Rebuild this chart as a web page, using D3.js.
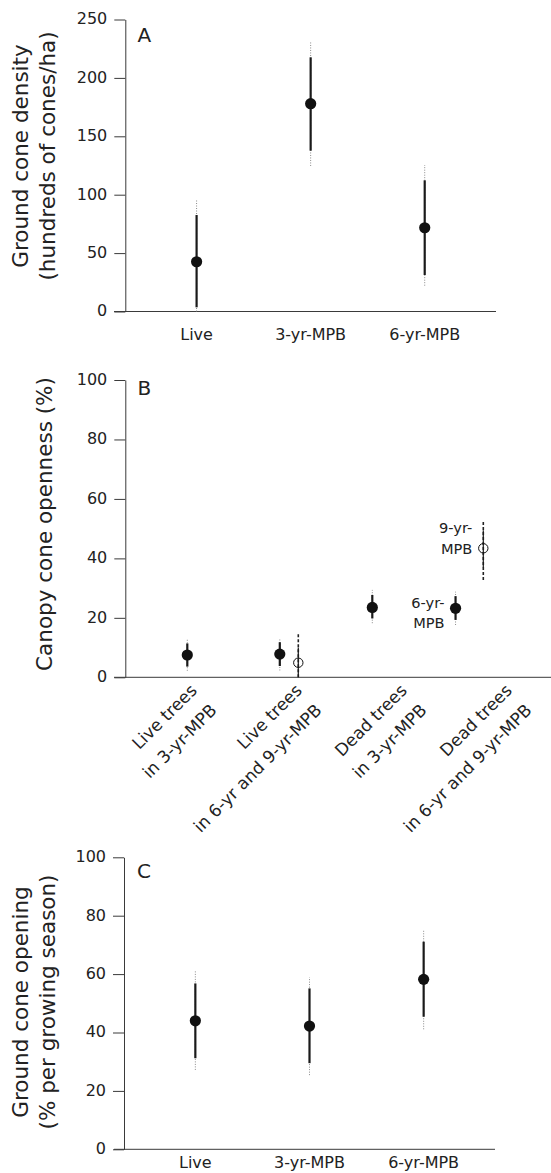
<!DOCTYPE html>
<html>
<head>
<meta charset="utf-8">
<script src="https://cdn.jsdelivr.net/npm/d3@7"></script>
<style>
  html, body { margin: 0; padding: 0; background: #fff; }
  svg { display: block; }
  text { font-family: "DejaVu Sans", sans-serif; fill: #222; }
</style>
</head>
<body>
<svg id="chart" width="551" height="1173"></svg>
<script>
// ---------- Panel A data ----------
const aCats = ["Live", "3-yr-MPB", "6-yr-MPB"];
const aMean = [42.6, 177.9, 71.7];
const aInnerLo = [3.6, 137.7, 31.2];
const aInnerHi = [82.6, 217.6, 112.3];
const aOuterLo = [0, 124.6, 22.1];
const aOuterHi = [96, 231.3, 125.4];
const aTicks = [0, 50, 100, 150, 200, 250];

// ---------- Panel B data ----------
const bCatLine1 = ["Live trees", "Live trees", "Dead trees", "Dead trees"];
const bCatLine2 = ["in 3-yr-MPB", "in 6-yr and 9-yr-MPB", "in 3-yr-MPB", "in 6-yr and 9-yr-MPB"];
const bPos = [1, 2, 2.2, 3, 3.9, 4.2];
const bOpen = [false, false, true, false, false, true];
const bMean = [7.5, 7.8, 4.9, 23.5, 23.2, 43.4];
const bInnerLo = [3.6, 3.8, 0, 19.8, 19.3, 37.0];
const bInnerHi = [11.4, 11.8, 10.0, 27.7, 27.3, 49.5];
const bOuterLo = [2.2, 2.3, 0, 18.2, 17.6, 32.7];
const bOuterHi = [13.1, 13.0, 14.6, 29.4, 28.8, 52.7];
const bNoteIdx = [4, 5];
const bNoteLine1 = ["6-yr-", "9-yr-"];
const bNoteLine2 = ["MPB", "MPB"];
const bTicks = [0, 20, 40, 60, 80, 100];

// ---------- Panel C data ----------
const cCats = ["Live", "3-yr-MPB", "6-yr-MPB"];
const cMean = [44.0, 42.2, 58.2];
const cInnerLo = [31.2, 29.5, 45.4];
const cInnerHi = [56.8, 55.1, 71.1];
const cOuterLo = [27.2, 25.4, 41.1];
const cOuterHi = [61.4, 58.9, 75.1];
const cTicks = [0, 20, 40, 60, 80, 100];

const svg = d3.select("#chart");
const AXIS = "#3a3a3a";
const DOT = "#8a8a8a";

function yAxis(g, y, ticks, x0) {
  const ax = g.append("g").attr("transform", `translate(${x0},0)`)
    .call(d3.axisLeft(y).tickValues(ticks).tickSize(11).tickPadding(7).tickSizeOuter(0));
  ax.select(".domain").attr("stroke", AXIS);
  ax.selectAll(".tick line").attr("stroke", AXIS);
  ax.selectAll(".tick text").attr("font-size", 16).attr("fill", "#222")
    .attr("font-family", '"DejaVu Sans", sans-serif').attr("dy", "0.28em");
}

function xLine(g, y0, x1, x2) {
  g.append("line").attr("x1", x1).attr("x2", x2).attr("y1", y0).attr("y2", y0)
    .attr("stroke", AXIS).attr("stroke-width", 1);
}

function title(g, lines, cy, baselines) {
  lines.forEach((t, i) => {
    g.append("text")
      .attr("transform", `translate(${baselines[i]},${cy}) rotate(-90)`)
      .attr("text-anchor", "middle").attr("font-size", 21.5).text(t);
  });
}

function errbars(g, xs, y, lo, hi, ilo, ihi, openFlags) {
  xs.forEach((x, i) => {
    const open = openFlags ? openFlags[i] : false;
    g.append("line").attr("x1", x).attr("x2", x)
      .attr("y1", y(Math.max(lo[i], y.domain()[0]))).attr("y2", y(hi[i]))
      .attr("stroke", open ? "#222" : DOT)
      .attr("stroke-width", open ? 1.6 : 1)
      .attr("stroke-dasharray", open ? "3,2" : "1,1.5");
    g.append("line").attr("x1", x).attr("x2", x)
      .attr("y1", y(ilo[i])).attr("y2", y(ihi[i]))
      .attr("stroke", "#1a1a1a").attr("stroke-width", open ? 1.2 : 2.2);
  });
}

function points(g, xs, y, m, openFlags) {
  xs.forEach((x, i) => {
    const open = openFlags ? openFlags[i] : false;
    g.append("circle").attr("cx", x).attr("cy", y(m[i]))
      .attr("r", open ? 4.7 : 5.6)
      .attr("fill", open ? "none" : "#111")
      .attr("stroke", "#111").attr("stroke-width", open ? 1 : 0);
  });
}

// ================= Panel A =================
{
  const g = svg.append("g");
  const y = d3.scaleLinear().domain([0, 250]).range([311.5, 19.5]);
  const x = d3.scalePoint().domain(aCats).range([125.3, 496]).padding(0.625);
  yAxis(g, y, aTicks, 125.3);
  xLine(g, 311.5, 114, 496);
  const xs = aCats.map(c => x(c));
  errbars(g, xs, y, aOuterLo, aOuterHi, aInnerLo, aInnerHi);
  points(g, xs, y, aMean);
  g.selectAll(".xl").data(aCats).enter().append("text")
    .attr("x", d => x(d)).attr("y", 340).attr("text-anchor", "middle")
    .attr("font-size", 16).text(d => d);
  g.append("text").attr("x", 137.5).attr("y", 42).attr("font-size", 20).text("A");
  title(g, ["Ground cone density", "(hundreds of cones/ha)"], 156, [27.7, 55]);
}

// ================= Panel B =================
{
  const g = svg.append("g");
  const y = d3.scaleLinear().domain([0, 100]).range([677.3, 380]);
  const x = d3.scaleLinear().domain([1, 3]).range([187.3, 372.3]);
  const xl = d3.scalePoint().domain(d3.range(bCatLine1.length)).range([198, 513]);
  yAxis(g, y, bTicks, 125.3);
  xLine(g, 677.3, 114, 551);
  const xs = bPos.map(p => x(p));
  errbars(g, xs, y, bOuterLo, bOuterHi, bInnerLo, bInnerHi, bOpen);
  points(g, xs, y, bMean, bOpen);
  bCatLine1.forEach((t, i) => {
    const tx = g.append("text")
      .attr("transform", `translate(${xl(i)},691.5) rotate(-45)`)
      .attr("text-anchor", "end").attr("font-size", 17);
    tx.append("tspan").attr("x", 0).attr("y", 0).text(t);
    tx.append("tspan").attr("x", 0).attr("y", 28).text(bCatLine2[i]);
  });
  const noteDy = [[0, 20], [-15, 5.7]];
  bNoteIdx.forEach((k, j) => {
    const px = xs[k] - 11, py = y(bMean[k]);
    g.append("text").attr("x", px).attr("y", py + noteDy[j][0])
      .attr("text-anchor", "end").attr("font-size", 14.6).text(bNoteLine1[j]);
    g.append("text").attr("x", px).attr("y", py + noteDy[j][1])
      .attr("text-anchor", "end").attr("font-size", 14.6).text(bNoteLine2[j]);
  });
  g.append("text").attr("x", 137.5).attr("y", 395).attr("font-size", 20).text("B");
  title(g, ["Canopy cone openness (%)"], 524, [51.5]);
}

// ================= Panel C =================
{
  const g = svg.append("g");
  const y = d3.scaleLinear().domain([0, 100]).range([1149.3, 857.3]);
  const x = d3.scalePoint().domain(cCats).range([124, 495]).padding(0.625);
  yAxis(g, y, cTicks, 124);
  xLine(g, 1149.3, 114, 495);
  const xs = cCats.map(c => x(c));
  errbars(g, xs, y, cOuterLo, cOuterHi, cInnerLo, cInnerHi);
  points(g, xs, y, cMean);
  g.selectAll(".xl").data(cCats).enter().append("text")
    .attr("x", d => x(d)).attr("y", 1168).attr("text-anchor", "middle")
    .attr("font-size", 16).text(d => d);
  g.append("text").attr("x", 137).attr("y", 878).attr("font-size", 20).text("C");
  title(g, ["Ground cone opening", "(% per growing season)"], 1002, [28, 54.5]);
}
</script>
</body>
</html>
